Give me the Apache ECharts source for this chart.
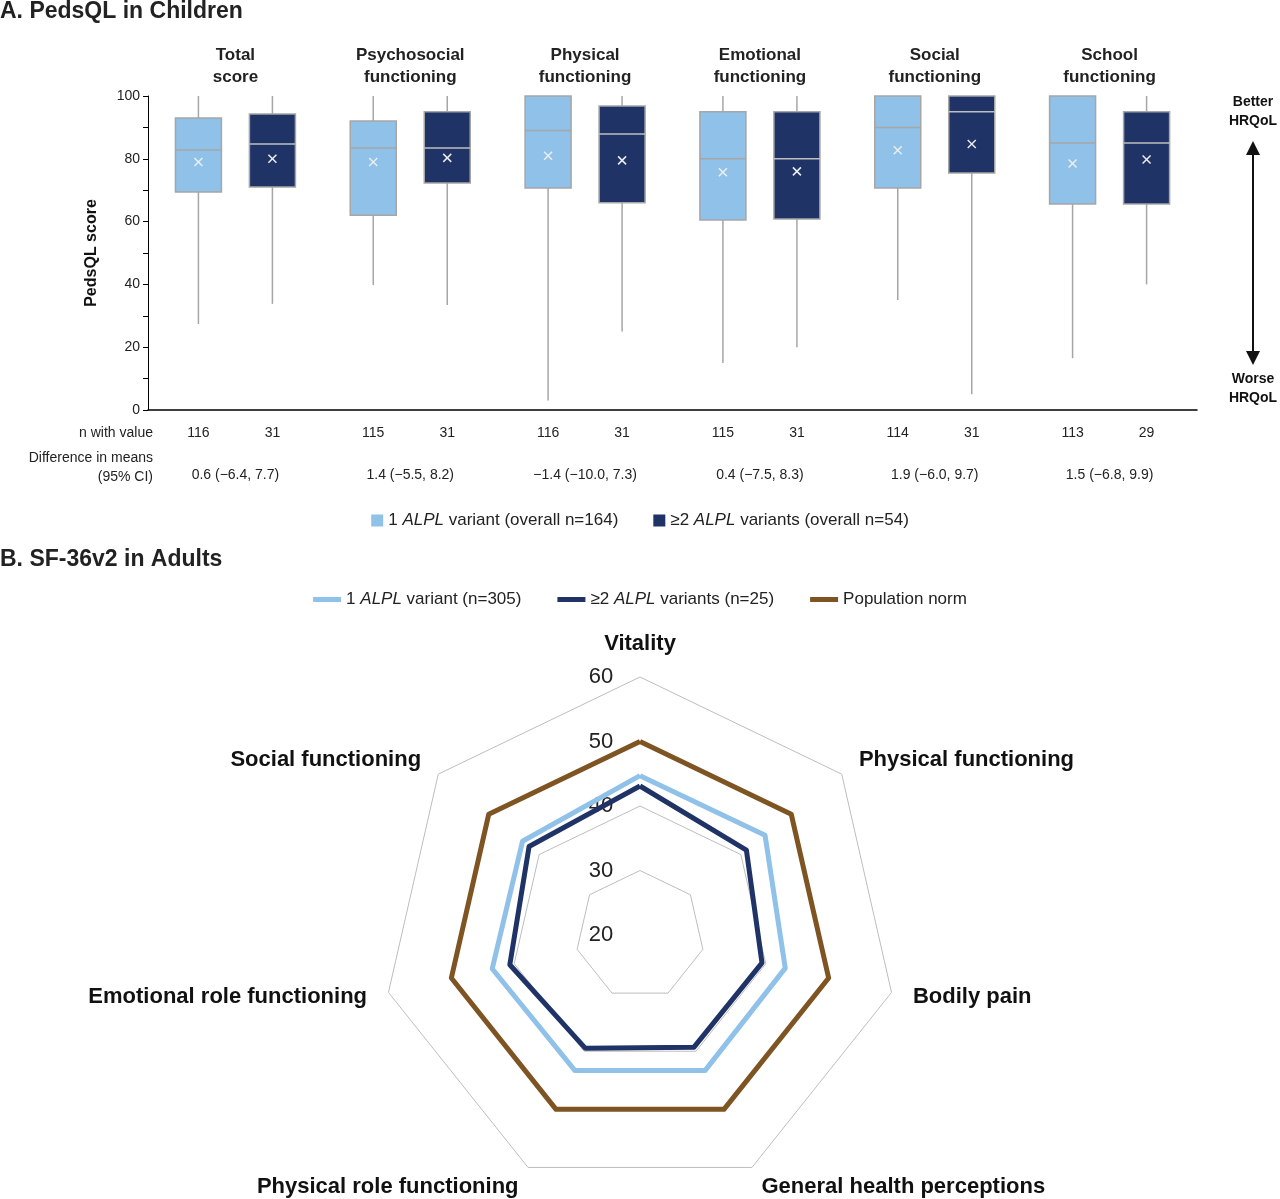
<!DOCTYPE html>
<html><head><meta charset="utf-8">
<script src="https://cdn.jsdelivr.net/npm/echarts@6/dist/echarts.min.js"></script>
<style>html,body{margin:0;padding:0;background:#fff}#c{width:1280px;height:1199px}</style>
</head><body><div id="c"></div>
<script>
const domains = ['Total\nscore','Psychosocial\nfunctioning','Physical\nfunctioning','Emotional\nfunctioning','Social\nfunctioning','School\nfunctioning'];
// [min, q1, median, q3, max, mean]
const oneVariant = [[27.4,69.4,82.8,93,100,79],[39.8,62,83.4,92,100,79],[3,70.7,89,100,100,81],[15,60.5,80,95,100,75.7],[35,70.7,90,100,100,82.7],[16.5,65.6,85,100,100,78.5]];
const twoVariants = [[33.8,71,84.7,94.3,100,80],[33.4,72.3,83.4,95,100,80.3],[25,66,87.9,96.8,100,79.5],[20,60.8,80,95,100,76],[5,75.5,95,100,100,84.7],[40,65.6,85,95,100,79.8]];
const nOne = [116,115,116,115,114,113];
const nTwo = [31,31,31,31,31,29];
const diffs = ['0.6 (−6.4, 7.7)','1.4 (−5.5, 8.2)','−1.4 (−10.0, 7.3)','0.4 (−7.5, 8.3)','1.9 (−6.0, 9.7)','1.5 (−6.8, 9.9)'];
const radarIndicators = ['Vitality','Social functioning','Emotional role functioning','Physical role functioning','General health perceptions','Bodily pain','Physical functioning'];
const radarOne = [44.7,43.3,43.5,43.3,43.3,43.1,44.8];
const radarTwo = [43.1,42,40.7,39.5,39.3,39.4,41.1];
const radarNorm = [50,50,50,50,50,50,50];
const radarTicks = [20,30,40,50,60];

const chart = echarts.init(document.getElementById('c'));
function mk(arr, n, off, fill, med, name){
  return {
    type:'custom', name:name, coordinateSystem:'cartesian2d', xAxisIndex:0, yAxisIndex:0,
    itemStyle:{color:fill},
    data: arr.map((d,i)=>[i].concat(d).concat([n[i]])),
    renderItem:function(p,api){
      const c=api.value(0);
      const x=api.coord([c,0])[0]+off;
      const y=v=>api.coord([c,v])[1];
      const mn=y(api.value(1)),q1=y(api.value(2)),md=y(api.value(3)),q3=y(api.value(4)),mx=y(api.value(5)),mean=y(api.value(6));
      const y0=y(0);
      const w=23, g='#a6a6a6';
      return {type:'group',children:[
        {type:'line',shape:{x1:x,y1:mx,x2:x,y2:q3},style:{stroke:g,lineWidth:1.5}},
        {type:'line',shape:{x1:x,y1:q1,x2:x,y2:mn},style:{stroke:g,lineWidth:1.5}},
        {type:'rect',shape:{x:x-w,y:q3,width:2*w,height:q1-q3},style:{fill:fill,stroke:g,lineWidth:1.5}},
        {type:'line',shape:{x1:x-w,y1:md,x2:x+w,y2:md},style:{stroke:med,lineWidth:1.5}},
        {type:'line',shape:{x1:x-4,y1:mean-4,x2:x+4,y2:mean+4},style:{stroke:'#eee',lineWidth:1.5}},
        {type:'line',shape:{x1:x-4,y1:mean+4,x2:x+4,y2:mean-4},style:{stroke:'#eee',lineWidth:1.5}},
        {type:'text',x:x,y:y0+23,style:{text:String(api.value(7)),fill:'#222',font:'14px Arial',align:'center',verticalAlign:'middle'}}
      ]};
    }
  };
}
const cx=640, cy=935, R=258;
const graphics=[
  {type:'text',left:0,top:0,style:{text:'A. PedsQL in Children',font:'bold 23px Arial',fill:'#222'}},
  {type:'text',left:0,top:548,style:{text:'B. SF-36v2 in Adults',font:'bold 23px Arial',fill:'#222'}},
  {type:'text',x:153,y:433,style:{text:'n with value',font:'14px Arial',fill:'#222',align:'right',verticalAlign:'middle'}},
  {type:'text',x:153,y:468,style:{text:'Difference in means\n(95% CI)',font:'14px Arial',fill:'#222',align:'right',verticalAlign:'middle',lineHeight:19}},
  {type:'text',x:1253,y:112,style:{text:'Better\nHRQoL',font:'bold 14px Arial',fill:'#111',align:'center',verticalAlign:'middle',lineHeight:19}},
  {type:'text',x:1253,y:389,style:{text:'Worse\nHRQoL',font:'bold 14px Arial',fill:'#111',align:'center',verticalAlign:'middle',lineHeight:19}},
  {type:'line',shape:{x1:1253,y1:152,x2:1253,y2:354},style:{stroke:'#111',lineWidth:2}},
  {type:'polygon',shape:{points:[[1253,141],[1246,155],[1260,155]]},style:{fill:'#111'}},
  {type:'polygon',shape:{points:[[1253,365],[1246,351],[1260,351]]},style:{fill:'#111'}}
];
radarTicks.forEach((t,i)=>graphics.push({type:'text',x:601,y:cy-i*R/4,style:{text:String(t),font:'22px Arial',fill:'#222',align:'center',verticalAlign:'middle'}}));
const legendNames={'one':'1 {i|ALPL} variant (overall n=164)','two':'≥2 {i|ALPL} variants (overall n=54)','r1':'1 {i|ALPL} variant (n=305)','r2':'≥2 {i|ALPL} variants (n=25)','rn':'Population norm'};
const rich={i:{fontStyle:'italic',fontSize:17,fontFamily:'Arial',color:'#222'}};
chart.setOption({
  animation:false,
  graphic:graphics,
  legend:[
    {data:['one','two'],top:507,left:'center',itemWidth:12,itemHeight:12,icon:'rect',itemGap:35,
     formatter:n=>legendNames[n],textStyle:{fontSize:17,fontFamily:'Arial',color:'#222',rich:rich}},
    {data:['r1','r2','rn'],top:586,left:'center',itemWidth:28,itemHeight:5,icon:'rect',itemGap:36,
     formatter:n=>legendNames[n],textStyle:{fontSize:17,fontFamily:'Arial',color:'#222',rich:rich}}
  ],
  grid:{left:148,right:83,top:96,height:314},
  xAxis:[
    {type:'category',data:domains,position:'top',axisLine:{show:true,lineStyle:{color:'#000',width:1.5}},axisTick:{show:false},
     axisLabel:{fontWeight:'bold',fontSize:17,fontFamily:'Arial',color:'#222',lineHeight:22,margin:8}},
    {type:'category',data:diffs,position:'bottom',offset:50,axisLine:{show:false},axisTick:{show:false},
     axisLabel:{fontSize:14,fontFamily:'Arial',color:'#222'}}
  ],
  yAxis:{type:'value',min:0,max:100,interval:20,name:'PedsQL score',nameLocation:'middle',nameGap:48,
    nameTextStyle:{fontWeight:'bold',fontSize:16,fontFamily:'Arial',color:'#111'},
    axisLine:{show:true,lineStyle:{color:'#000'}},axisTick:{show:true,length:5,lineStyle:{color:'#000'}},
    minorTick:{show:true,splitNumber:2,length:5,lineStyle:{color:'#000'}},splitLine:{show:false},
    axisLabel:{fontSize:14,fontFamily:'Arial',color:'#222'}},
  radar:{center:[cx,cy],radius:R,startAngle:90,splitNumber:4,shape:'polygon',
    indicator:radarIndicators.map(n=>({name:n,min:20,max:60})),
    axisName:{color:'#111',fontWeight:'bold',fontSize:22,fontFamily:'Arial'},nameGap:22,
    splitLine:{lineStyle:{color:'#bdbdbd',width:1}},splitArea:{show:false},axisLine:{show:false},axisLabel:{show:false},axisTick:{show:false}},
  series:[
    mk(oneVariant,nOne,-37,'#8fc1e9','#a6a6a6','one'),
    mk(twoVariants,nTwo,37,'#1f3366','#bfbfbf','two'),
    {type:'radar',symbol:'none',data:[
      {name:'rn',value:radarNorm,lineStyle:{color:'#7f5423',width:5},itemStyle:{color:'#7f5423'}},
      {name:'r1',value:radarOne,lineStyle:{color:'#8fc1e9',width:5},itemStyle:{color:'#8fc1e9'}},
      {name:'r2',value:radarTwo,lineStyle:{color:'#1f3366',width:5},itemStyle:{color:'#1f3366'}}
    ]}
  ]
});
</script></body></html>
